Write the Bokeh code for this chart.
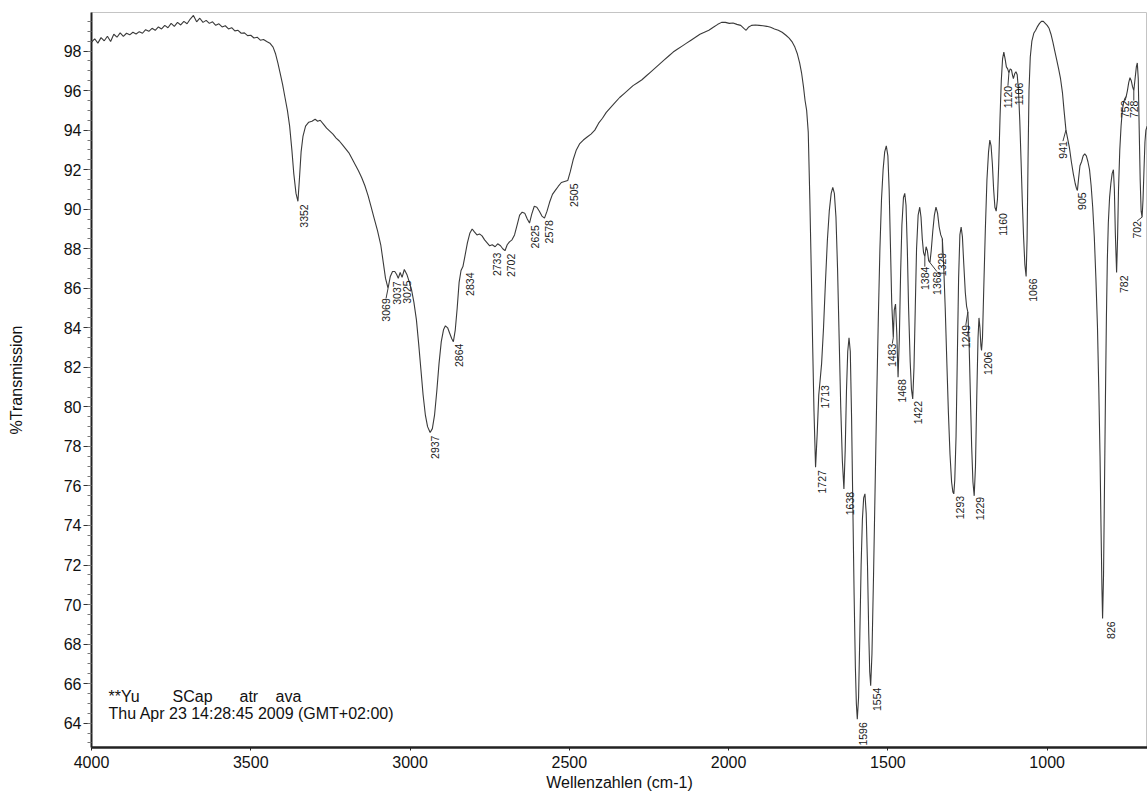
import math
import numpy as np
from bokeh.plotting import figure
from bokeh.models import Range1d, FixedTicker
from bokeh.embed import file_html
from bokeh.resources import INLINE
from bokeh.core.properties import value

# ---------------- data ----------------
wavenumber = [
    4000, 3990, 3980, 3970, 3960, 3950, 3940, 3930, 3920, 3910, 3900, 3890, 3880, 3870, 3860, 3850,
    3840, 3830, 3820, 3810, 3800, 3790, 3780, 3770, 3760, 3750, 3740, 3730, 3720, 3710, 3700, 3690,
    3680, 3670, 3660, 3650, 3640, 3630, 3620, 3610, 3600, 3590, 3580, 3570, 3560, 3550, 3540, 3530,
    3520, 3510, 3500, 3490, 3480, 3470, 3460, 3450, 3440, 3430, 3422, 3415, 3408, 3400, 3392, 3385,
    3378, 3371, 3365, 3358, 3352, 3347, 3342, 3336, 3328, 3318, 3308, 3298, 3290, 3282, 3272, 3262,
    3252, 3242, 3232, 3222, 3212, 3202, 3192, 3182, 3172, 3162, 3152, 3142, 3132, 3122, 3112, 3102,
    3092, 3084, 3077, 3069, 3062, 3055, 3048, 3042, 3037, 3031, 3025, 3018, 3010, 3002, 2995, 2988,
    2980, 2973, 2966, 2959, 2952, 2945, 2937, 2930, 2923, 2916, 2909, 2902, 2895, 2889, 2882, 2875,
    2869, 2864, 2858, 2852, 2846, 2840, 2834, 2828, 2820, 2812, 2805, 2798, 2790, 2782, 2774, 2766,
    2758, 2750, 2742, 2733, 2725, 2716, 2709, 2702, 2695, 2688, 2680, 2672, 2664, 2656, 2648, 2640,
    2632, 2625, 2618, 2610, 2602, 2594, 2586, 2578, 2570, 2562, 2553, 2544, 2535, 2525, 2515, 2505,
    2497, 2488, 2478, 2468, 2456, 2444, 2432, 2420, 2408, 2396, 2384, 2370, 2356, 2342, 2328, 2314,
    2300, 2286, 2272, 2258, 2244, 2230, 2216, 2202, 2188, 2174, 2160, 2146, 2132, 2118, 2104, 2090,
    2076, 2062, 2048, 2034, 2022, 2010, 1998, 1986, 1974, 1962, 1952, 1945, 1938, 1928, 1916, 1904,
    1892, 1880, 1868, 1856, 1844, 1832, 1820, 1810, 1800, 1792, 1784, 1777, 1771, 1765, 1760, 1755,
    1750, 1745, 1740, 1736, 1732, 1727, 1722, 1717, 1713, 1708, 1702, 1696, 1690, 1684, 1678, 1673,
    1668, 1663, 1658, 1653, 1648, 1643, 1638, 1634, 1630, 1626, 1622, 1618, 1614, 1610, 1606, 1602,
    1599, 1596, 1592, 1588, 1584, 1580, 1576, 1572, 1568, 1564, 1560, 1557, 1554, 1550, 1545, 1540,
    1535, 1530, 1525, 1520, 1515, 1510, 1505, 1500, 1496, 1492, 1488, 1483, 1480, 1476, 1472, 1468,
    1464, 1460, 1456, 1451, 1447, 1443, 1439, 1435, 1430, 1426, 1422, 1418, 1414, 1410, 1405, 1400,
    1396, 1392, 1388, 1384, 1380, 1376, 1372, 1368, 1364, 1359, 1354, 1349, 1344, 1339, 1334, 1329,
    1325, 1320, 1315, 1310, 1305, 1300, 1296, 1293, 1290, 1286, 1282, 1278, 1274, 1270, 1266, 1262,
    1257, 1253, 1249, 1245, 1241, 1237, 1233, 1229, 1225, 1221, 1217, 1214, 1211, 1208, 1206, 1203,
    1199, 1194, 1189, 1184, 1180, 1176, 1172, 1168, 1164, 1160, 1156, 1152, 1148, 1144, 1140, 1136,
    1132, 1128, 1124, 1120, 1116, 1112, 1109, 1106, 1102, 1098, 1094, 1090, 1086, 1082, 1078, 1074,
    1070, 1066, 1063, 1060, 1057, 1053, 1048, 1042, 1036, 1030, 1024, 1018, 1012, 1006, 1000, 994,
    988, 982, 976, 970, 964, 958, 952, 947, 941, 936, 930, 924, 918, 912, 908, 905,
    901, 897, 892, 887, 882, 877, 872, 867, 862, 857, 852, 847, 842, 838, 834, 831,
    828, 826, 823, 820, 817, 814, 811, 808, 804, 800, 796, 792, 789, 786, 782, 779,
    776, 772, 768, 764, 760, 756, 752, 748, 744, 740, 736, 732, 728, 724, 720, 717,
    714, 711, 708, 705, 702, 699, 696, 693, 690, 686, 682,
]
transmission = [
    98.45, 98.62, 98.40, 98.68, 98.52, 98.75, 98.48, 98.85, 98.70, 98.92, 98.74, 98.90, 98.82, 98.95, 98.86, 98.98,
    98.90, 99.08, 99.00, 99.15, 99.05, 99.22, 99.12, 99.30, 99.18, 99.40, 99.25, 99.45, 99.32, 99.50, 99.38, 99.62,
    99.80, 99.48, 99.66, 99.45, 99.55, 99.40, 99.48, 99.30, 99.38, 99.22, 99.28, 99.12, 99.18, 99.02, 99.05, 98.90,
    98.92, 98.78, 98.80, 98.66, 98.70, 98.55, 98.58, 98.48, 98.40, 98.20, 97.85, 97.40, 96.90, 96.30, 95.60, 95.00,
    94.20, 93.00, 91.80, 90.80, 90.40, 91.60, 92.90, 93.70, 94.20, 94.40, 94.45, 94.55, 94.45, 94.50, 94.30, 94.10,
    93.95, 93.80, 93.60, 93.45, 93.25, 93.05, 92.85, 92.55, 92.25, 91.95, 91.60, 91.20, 90.70, 90.10, 89.50, 88.90,
    88.20, 87.30, 86.50, 86.00, 86.60, 86.85, 86.85, 86.70, 86.50, 86.80, 86.55, 86.95, 86.70, 86.30, 85.90, 85.30,
    84.40, 83.20, 81.90, 80.60, 79.60, 79.00, 78.70, 78.90, 79.60, 80.80, 82.20, 83.30, 83.90, 84.10, 84.00, 83.70,
    83.45, 83.30, 83.90, 85.00, 86.30, 86.90, 87.10, 87.60, 88.30, 88.80, 89.00, 88.85, 88.70, 88.75, 88.65, 88.45,
    88.30, 88.15, 88.20, 88.10, 88.25, 88.15, 88.00, 87.90, 88.20, 88.35, 88.45, 88.70, 89.20, 89.70, 89.85, 89.80,
    89.50, 89.30, 89.75, 90.15, 90.10, 89.90, 89.65, 89.55, 89.90, 90.35, 90.75, 90.95, 91.15, 91.35, 91.40, 91.45,
    91.90, 92.50, 93.00, 93.30, 93.50, 93.65, 93.80, 94.00, 94.35, 94.60, 94.90, 95.15, 95.40, 95.65, 95.85, 96.05,
    96.25, 96.40, 96.55, 96.75, 96.95, 97.15, 97.35, 97.55, 97.75, 97.95, 98.10, 98.25, 98.40, 98.55, 98.70, 98.85,
    98.95, 99.05, 99.20, 99.35, 99.45, 99.45, 99.40, 99.42, 99.35, 99.30, 99.15, 99.05, 99.20, 99.30, 99.32, 99.30,
    99.28, 99.25, 99.20, 99.12, 99.05, 98.95, 98.80, 98.65, 98.45, 98.20, 97.85, 97.40, 96.90, 96.20, 95.50, 95.00,
    93.90, 90.50, 86.50, 83.00, 79.80, 76.95, 78.60, 80.60, 81.30, 82.20, 84.00, 86.30, 88.40, 89.90, 90.80, 91.10,
    90.80, 89.60, 87.00, 83.50, 80.00, 77.30, 75.85, 77.80, 80.80, 82.80, 83.50, 82.80, 79.50, 75.00, 70.50, 66.80,
    65.00, 64.20, 65.30, 68.50, 72.00, 74.30, 75.40, 75.60, 74.60, 72.00, 68.50, 66.60, 65.90, 67.50, 71.50, 76.00,
    80.50, 84.50, 88.00, 90.50, 92.00, 92.90, 93.20, 92.70, 91.00, 88.20, 85.30, 83.50, 84.90, 85.20, 83.70, 81.50,
    83.50, 86.80, 89.20, 90.60, 90.80, 90.20, 88.00, 85.00, 82.30, 80.90, 80.40, 82.00, 85.00, 88.00, 89.70, 90.10,
    89.60, 88.50, 87.80, 87.60, 88.10, 87.90, 87.40, 87.30, 87.90, 88.90, 89.70, 90.10, 89.80, 89.10, 88.70, 88.50,
    87.20, 85.00, 82.30, 79.70, 77.60, 76.20, 75.70, 75.60, 76.30, 78.50, 82.50, 86.50, 88.70, 89.10, 88.60, 87.30,
    85.80, 85.10, 84.80, 83.20, 80.60, 78.00, 76.20, 75.50, 77.00, 80.50, 83.50, 84.50, 84.00, 83.10, 82.85, 83.50,
    86.00, 89.00, 91.50, 92.90, 93.50, 93.20, 92.30, 91.00, 90.10, 89.90, 90.50, 92.30, 94.60, 96.50, 97.60, 97.95,
    97.60, 97.20, 97.10, 96.90, 97.10, 97.05, 96.80, 96.60, 96.85, 96.95, 96.80, 96.00, 94.50, 92.50, 90.40, 88.60,
    87.20, 86.60, 88.50, 92.50, 96.00, 97.70, 98.50, 98.90, 99.05, 99.25, 99.40, 99.50, 99.50, 99.40, 99.30, 99.15,
    98.85, 98.45, 98.00, 97.55, 97.10, 96.60, 95.90, 95.00, 94.00, 93.60, 93.10, 92.40, 91.80, 91.30, 91.05, 90.95,
    91.60, 92.20, 92.40, 92.70, 92.80, 92.70, 92.40, 92.00, 91.20, 90.10, 88.60, 86.50, 84.00, 81.00, 77.50, 74.00,
    70.80, 69.30, 71.50, 76.00, 80.50, 84.50, 87.50, 89.30, 90.60, 91.30, 91.80, 92.00, 91.00, 88.80, 86.80, 88.50,
    91.00, 93.00, 94.20, 95.00, 95.40, 95.60, 95.70, 96.00, 96.40, 96.65, 96.50, 96.20, 96.00, 96.60, 97.20, 97.40,
    96.60, 94.00, 91.50, 89.90, 89.60, 90.50, 92.00, 93.40, 94.00, 94.20, 94.00,
]

peak_labels = [3352, 3069, 3037, 3025, 2937, 2864, 2834, 2733, 2702, 2625, 2578, 2505,
               1727, 1713, 1638, 1596, 1554, 1483, 1468, 1422, 1384, 1368, 1329, 1293,
               1249, 1229, 1206, 1160, 1120, 1106, 1066, 941, 905, 826, 782, 752, 728, 702]

# label placement (pixels: horizontal shift of label centre, gap below peak) and leader flag
label_dx = [6, -2, -1, 5, 5, 6, 7, 2, 6, 5, 5, 6,
            6, 5, 6, 6, 6, -1, 4, 5, 0, 7, 0, 6,
            -2, 6, 6, 7, -1, 6, 7, -3, 5, 8, 7, -1, 0, -5]
label_dy = [3, 10, 3, 3, 3, 2, 6, 6, 3, 2, 2, 3,
            3, 4, 3, 3, 2, 6, 2, 2, 10, 9, 14, 2,
            13, 1, 1, 2, 13, 4, 2, 11, 2, 3, 3, 4, 10, 4]
has_leader = [0, 1, 0, 0, 0, 0, 0, 0, 0, 0, 0, 0,
              0, 0, 0, 0, 0, 1, 0, 0, 1, 1, 1, 0,
              1, 0, 0, 0, 1, 0, 0, 1, 0, 0, 0, 1, 1, 1]

x_ticks = [4000, 3500, 3000, 2500, 2000, 1500, 1000]
y_ticks = list(range(64, 100, 2))

info_words = ["**Yu", "SCap", "atr", "ava"]
info_date = "Thu Apr 23 14:28:45 2009 (GMT+02:00)"

# ---------------- figure ----------------
X0, X1 = 4000, 685
Y0, Y1 = 62.77, 99.95
FW, FH = 1056, 735
XS = (X0 - X1) / FW
YS = (Y1 - Y0) / FH
LEFT, TOP = 91, 12

p = figure(frame_width=FW, frame_height=FH,
           x_range=Range1d(X0, X1), y_range=Range1d(Y0, Y1),
           output_backend="svg", toolbar_location=None,
           min_border_left=LEFT, min_border_right=0, min_border_top=TOP, min_border_bottom=47,
           background_fill_color="white", border_fill_color="white")
p.grid.visible = False
p.outline_line_color = "#c4c4c4"
p.outline_line_width = 1

FONT = "Liberation Sans"

xa = p.xaxis[0]
xa.ticker = FixedTicker(ticks=x_ticks, minor_ticks=[])
xa.axis_label = "Wellenzahlen (cm-1)"
xa.axis_line_width = 2.5
xa.axis_line_color = "#222222"
xa.major_tick_out = 3
xa.major_tick_in = 0
xa.major_tick_line_color = "#222222"
xa.minor_tick_line_color = None
xa.major_label_standoff = 5
xa.axis_label_standoff = 3

ya = p.yaxis[0]
ya.ticker = FixedTicker(ticks=y_ticks, minor_ticks=[v / 2 for v in range(126, 200)])
ya.axis_label = "%Transmission"
ya.axis_line_width = 2
ya.axis_line_color = "#222222"
ya.major_tick_out = 8
ya.major_tick_in = 0
ya.minor_tick_out = 4
ya.minor_tick_in = 0
ya.major_tick_line_color = "#333333"
ya.minor_tick_line_color = "#777777"
ya.major_label_standoff = 2
ya.axis_label_standoff = 36

for ax in (xa, ya):
    ax.major_label_text_font = FONT
    ax.major_label_text_font_size = "16px"
    ax.major_label_text_color = "#111111"
    ax.axis_label_text_font = FONT
    ax.axis_label_text_font_size = "16px"
    ax.axis_label_text_font_style = "normal"
    ax.axis_label_text_color = "#111111"

# spectrum
p.line(wavenumber, transmission, line_color="#3a3a3a", line_width=1.1)

# peak labels
wn_arr = np.array(wavenumber[::-1], dtype=float)
t_arr = np.array(transmission[::-1], dtype=float)
peak_t = np.interp(peak_labels, wn_arr, t_arr)
lab_x = [w - dx * XS for w, dx in zip(peak_labels, label_dx)]
lab_y = [t - dy * YS for t, dy in zip(peak_t, label_dy)]

p.text(x=lab_x, y=lab_y, text=[str(v) for v in peak_labels],
       angle=math.pi / 2, text_align="right", text_baseline="middle",
       text_font=value(FONT), text_font_size="10.5px", text_color="#1a1a1a")

lx0 = [w for w, f in zip(peak_labels, has_leader) if f]
ly0 = [t for t, f in zip(peak_t, has_leader) if f]
lx1 = [x for x, f in zip(lab_x, has_leader) if f]
ly1 = [y for y, f in zip(lab_y, has_leader) if f]
p.segment(x0=lx0, y0=ly0, x1=lx1, y1=ly1, line_color="#3a3a3a", line_width=1)

# info text (sample name and date)
def px_to_data(px, py):
    return X0 - (px - LEFT) * XS, Y1 - (py - TOP) * YS

word_px = [108, 172, 239, 275]
wx, wy = [], []
for px in word_px:
    dx_, dy_ = px_to_data(px, 696)
    wx.append(dx_)
    wy.append(dy_)
p.text(x=wx, y=wy, text=info_words, text_align="left", text_baseline="middle",
       text_font=value(FONT), text_font_size="16px", text_color="#111111")
dx_, dy_ = px_to_data(108, 713)
p.text(x=[dx_], y=[dy_], text=[info_date], text_align="left", text_baseline="middle",
       text_font=value(FONT), text_font_size="16px", text_color="#111111")

open("out.html", "w").write(file_html(p, INLINE))
